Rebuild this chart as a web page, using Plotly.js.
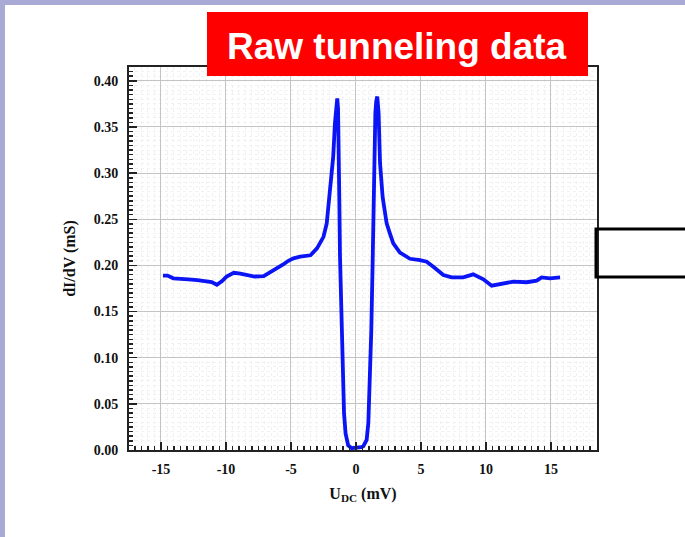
<!DOCTYPE html>
<html>
<head>
<meta charset="utf-8">
<script src="https://cdn.plot.ly/plotly-3.0.1.min.js"></script>
<style>
html,body{margin:0;padding:0;background:#fff;}
#chart{width:685px;height:537px;}
</style>
</head>
<body>
<div id="chart"></div>
<script>
// Bias voltage (mV)
const biasMV = [-14.85, -14.5, -14.05, -13.5, -12.9, -12.2, -11.6, -11.1, -10.7, -10.3, -9.95, -9.4, -8.9, -8.4, -7.8, -7.1, -6.4, -5.6, -5.2, -4.8, -4.3, -3.9, -3.5, -3.0, -2.5, -2.25, -2.0, -1.75, -1.62, -1.52, -1.44, -1.38, -1.32, -1.28, -1.23, -1.1, -1.02, -0.92, -0.8, -0.6, -0.33, 0.05, 0.4, 0.56, 0.82, 0.95, 1.08, 1.18, 1.28, 1.38, 1.49, 1.56, 1.64, 1.74, 1.85, 2.05, 2.36, 2.6, 2.87, 3.38, 4.15, 4.92, 5.44, 5.95, 6.72, 7.36, 8.25, 9.02, 9.8, 10.44, 11.08, 12.1, 13.13, 13.9, 14.28, 14.92, 15.7];
// Differential conductance dI/dV (mS)
const conductance = [0.189, 0.189, 0.186, 0.186, 0.185, 0.184, 0.183, 0.182, 0.179, 0.183, 0.188, 0.192, 0.191, 0.190, 0.188, 0.1885, 0.194, 0.201, 0.205, 0.2077, 0.2095, 0.210, 0.211, 0.2185, 0.231, 0.2455, 0.278, 0.318, 0.354, 0.374, 0.381, 0.370, 0.330, 0.270, 0.210, 0.148, 0.094, 0.040, 0.018, 0.005, 0.002, 0.002, 0.003, 0.004, 0.011, 0.029, 0.076, 0.130, 0.202, 0.293, 0.365, 0.378, 0.383, 0.365, 0.311, 0.274, 0.2455, 0.235, 0.224, 0.214, 0.2072, 0.2058, 0.204, 0.1986, 0.1896, 0.187, 0.187, 0.1903, 0.185, 0.178, 0.180, 0.1825, 0.1818, 0.1835, 0.187, 0.186, 0.187];
const xTickVals = [-15, -10, -5, 0, 5, 10, 15];
const yTickVals = [0, 0.05, 0.10, 0.15, 0.20, 0.25, 0.30, 0.35, 0.40];
const titleText = "Raw tunneling data";

const W = 685, H = 537;
const M = {l: 129, r: 88, t: 67, b: 87};
const pw = W - M.l - M.r, ph = H - M.t - M.b;
const px = v => (v - M.l) / pw;
const py = v => 1 - (v - M.t) / ph;

const serif = 'Liberation Serif, Times New Roman, serif';
const axisCommon = {
  showline: true, mirror: true, linecolor: '#222', linewidth: 2,
  ticks: 'inside', ticklen: 8, tickwidth: 1.5, tickcolor: '#222',
  showgrid: true, gridcolor: '#c4c4c4', gridwidth: 1,
  zeroline: false,
  tickfont: {family: serif, size: 14, color: '#111', weight: 'bold'}
};

const trace = {
  x: biasMV, y: conductance, type: 'scatter', mode: 'lines',
  line: {color: '#0a14f5', width: 3.8}, hoverinfo: 'skip'
};

const layout = {
  width: W, height: H,
  margin: M,
  paper_bgcolor: '#fff', plot_bgcolor: '#fff',
  showlegend: false,
  xaxis: Object.assign({}, axisCommon, {
    range: [-17.46, 18.54],
    tickmode: 'array', tickvals: xTickVals,
    ticktext: xTickVals.map(String),
    ticklabelstandoff: 5,
    minor: {dtick: 0.5, ticks: 'inside', ticklen: 4, tickcolor: '#222', showgrid: true, gridcolor: '#f1f1f1', griddash: 'dot'},
    title: {text: 'U<sub>DC</sub> (mV)', font: {family: serif, size: 16, color: '#111', weight: 'bold'}, standoff: 12}
  }),
  yaxis: Object.assign({}, axisCommon, {
    range: [0, 0.415],
    tickmode: 'array', tickvals: yTickVals,
    ticktext: yTickVals.map(v => v.toFixed(2)),
    ticklabelstandoff: 6,
    minor: {dtick: 0.005, ticks: 'inside', ticklen: 4, tickcolor: '#222', showgrid: true, gridcolor: '#f1f1f1', griddash: 'dot'},
    title: {text: 'dI/dV (mS)', font: {family: serif, size: 16, color: '#111', weight: 'bold'}, standoff: 14}
  }),
  shapes: [
    // lavender page frame (top, left)
    {type: 'rect', xref: 'paper', yref: 'paper', x0: px(0), x1: px(W), y0: py(0), y1: py(5), fillcolor: '#a9a9d5', line: {width: 0}, layer: 'above'},
    {type: 'rect', xref: 'paper', yref: 'paper', x0: px(0), x1: px(5), y0: py(0), y1: py(H), fillcolor: '#a9a9d5', line: {width: 0}, layer: 'above'},
    // red title box
    {type: 'rect', xref: 'paper', yref: 'paper', x0: px(207), x1: px(588), y0: py(12), y1: py(76), fillcolor: '#ff0000', line: {width: 0}, layer: 'above'},
    // black outline box at right
    {type: 'rect', xref: 'paper', yref: 'paper', x0: px(596), x1: px(700), y0: py(229), y1: py(277), fillcolor: 'rgba(0,0,0,0)', line: {color: '#000', width: 3}, layer: 'above'}
  ],
  annotations: [
    {xref: 'paper', yref: 'paper', x: px(397), y: py(46), text: titleText, showarrow: false,
     xanchor: 'center', yanchor: 'middle',
     font: {family: 'Liberation Sans, Arial, sans-serif', size: 37, color: '#fff', weight: 'bold'}}
  ]
};

Plotly.newPlot('chart', [trace], layout, {staticPlot: true, displayModeBar: false});
</script>
</body>
</html>
